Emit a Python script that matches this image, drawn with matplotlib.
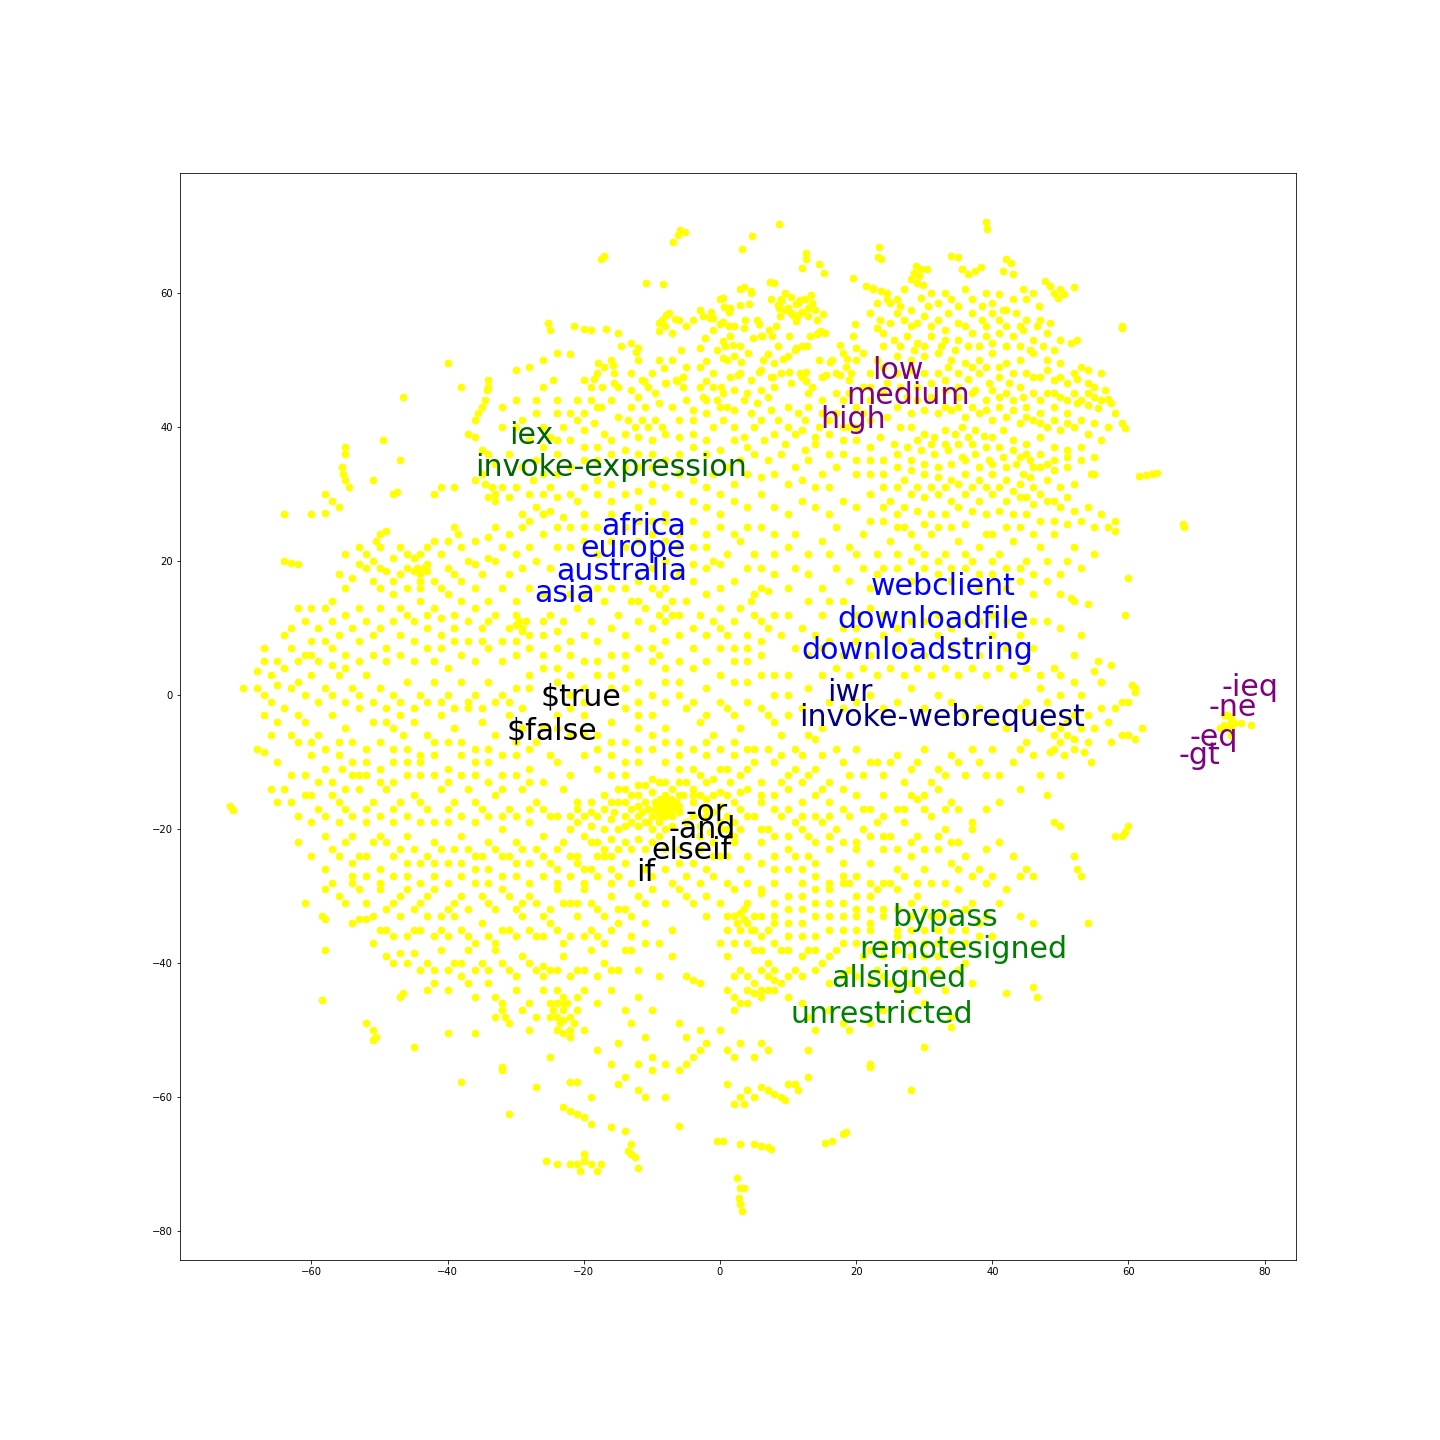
import matplotlib
matplotlib.use("Agg")
import matplotlib.pyplot as plt

# points, one list per band of y
band_top = [(-5.9,69.4),(-5.2,69),(-6.2,68.6),(-6.9,67.6),(8.7,70.3),(4.7,68.5),(3.3,66.5),(-17.4,65),(-17,65.5),(-10.8,61.4),(-8.4,61.3),
    (12.7,65.9),(12.7,65),(12.1,63.7),(14.5,64.3),(15.3,62.9),(19.5,62.2),(23.4,66.8),(23.2,65.3),(23.7,65),(34,65.5),(35,65.3),(39,70.5),(39.2,69.5),
    (28.8,64),(29.5,63.5),(28.5,63),(29.3,62.5),(30.4,63.5),(28,62),(29,61.5),(29.8,61.2),(35.5,63.5),(36.5,62.8),(37.5,63.2),(38.3,63.8),(42,65),(42.8,64.5),(41.5,63.2),(43,62.8),
    (21.5,61),(22.5,60.5),(24.5,60),(27,60.5),(31,60),(33,60),(26,59),(23,58.5),(25,58.5),(29.5,59.2),(36,60.5),(39,60),(41,59.8),(47.8,61.8),(48.5,61),(49,60),(50,60.5),(50.5,59.8),(49.7,59.2),(52,60.8),(45,59),(46.8,58),
    (-3,57.5),(-2.5,56.5),(-1.5,56.2),(0,59),(1.5,57.8),(3,60.5),(4.5,60),(8,61.5),(9,59),(10.5,59.3),(11.5,58.5),(12.5,59),(13.5,58.5),(8.5,58.2),(9.5,57.5),(10.5,57),(12,57.2),(13,56.5),(14,57.5),(0.5,55.7),(2,55),(3.5,54.7),(5.5,56),(7.2,54.5),(6,53.5),(14.3,53.8),(14.8,54.3),(15.5,54),
    (-25.3,55.5),(-25,54.5),(-21.5,55),(-20,54.6),(-19,54.5),(-22,50.8),(-15,54),(-14.5,52),(-13,52.5),(-12,51.8),(-8.5,56),(-7.5,57),(-8,55),(-9,55.5),(-7,54),(-6,56),(-5,55),(-4,56),(-1,54.5),(0.5,52.8),(3,52),(1.5,53.5),(-0.5,51.5),(-2,49.8),(1,50),(2,50.5)]

band_upper_right = [(22,57),(23.5,56),(25,55.5),(27,56),(28,55),(30,56.5),(32,56),(33.5,57),(35,55.5),(37,57),(38.5,56),(40,57),(41,56),(42,57.5),(43.5,57),(45,56),(24,54),(25.5,53),(27.5,53.5),(29,52.5),(31,53.5),(33,53),(35,53),(37,54),(39,53.5),(41,54),(43,53.5),(44.5,54.5),(46,53),(48,54),(50,53),(51.5,52.5),(52.5,53),(48.5,55.5),(59,55),(59,54.7),
    (21,51),(23,50),(26,50.5),(28,50),(30,50.5),(32,51),(34,50),(36,49.5),(38,50),(40,51),(42,49.5),(44,50),(46,51),(48,50),(50,49.5),(53,49),(54,48.5),(56,48),(45,48),(47,47.5),(49,47),(51,46.5),(52.5,47.2),(54,46.5),(55,46),(56.5,45.5),
    (35,48),(36.5,47.2),(38,48),(39.5,46.5),(41,47.5),(42.5,46.5),(44,46),(46,45),(48,45),(50,44.5),(52,45),(53,44),(54,45),(55,44.5),(56,44),(57,44.2),(57.5,43.5),(52.5,43.5),(54,43.2),(55.5,42.8),(58,42),(59,40.5),(59.5,39.8),
    (33,45.5),(35,44.5),(37,45),(39,44),(41,44.5),(43,44),(45,43),(47,42),(49,43),(51,42),(30,42.5),(32,42),(34,42.5),(36,41.5),(38,42),(40,41),(42,41.5),(44,40.5),(46,41),(48,40),(50,39.5),(52,40),(54,39),(56,38),(28,40),(30,39),(31.5,38.5),(33,39.5),(34.5,39),(35.5,40),(36.5,38.5),(37.5,39.5),(38.8,38.7),(40,38.5),(41.5,39.5),(43,38),(45,37.5),(47,38.5),(49,37),(51,36.5),(53,37),(55,35.5),
    (22,44),(24,45),(26,43),(27.5,44.5),(24.5,41.5),(26.5,40),(28,42),(22,41),(23.5,38.5),(25.5,37.5),(27.5,37),(29.5,36.5),(31.5,36),(33.5,36.5),(35.5,35.5),(37.5,36),(39.5,35),(41.5,35.5),(43.5,34.5),(45.5,35),(47,34),(49,33.5),(51,34),(54.5,33),(55,33),(61.5,32.7),(62.5,32.8),(63.5,33),(64.2,33.1),(68,25.5),(68.2,25),
    (44.5,33),(45.5,32.5),(44,31.5),(46,31),(48,32),(50,31),(52,31.5),(30,33),(32,32.5),(34,32),(36,33),(38,32),(40,33),(42,32),(26,34),(28,33.5),(24,35),(22,33),(20,35),(18,36),(26,31),(28,30),(30,29.5),(32,30),(34,29),(36,30),(38,29),(40,30),(42,29),(44,29.5),(46,28.5),(48,29),(50,28),(52,27.5),(54,28),(56,27)]

band_upper_mid = [(1.5,47.5),(3,48),(4.5,47),(6,48.5),(7.5,47.5),(9,48),(10.5,46.5),(12,47.5),(13.5,46),(15,47.5),(17,48),(18.5,49),(19,47),(14.5,50),(16.5,50),(18,51),(20,50),(10,50.5),(11,51.5),(12,52),(8,49.5),
    (-3,46),(-2.5,44.5),(-1,46),(-0.5,44),(0.5,45),(1,43),(2,45.5),(3.5,44),(4.5,42),(5.5,43.5),(7,44.5),(7.5,42.5),(8.5,41),(10,43),(11.5,42),(12.5,41),(14.5,40),(16,39),(18,38),(20,38),(22,37),(17,42),(19,40),(21,42),
    (-13,48),(-11.5,47),(-10.5,46),(-9.5,45),(-8,46.5),(-6.5,47),(-5.5,47.5),(-12,44.5),(-13,43),(-11,43),(-9,43.5),(-7,43),(-5,44),(-4,42.5),(-2,42),(-1,40),(0.5,41),(2,40),(3.5,38.5),(5,40),(6.5,38),(8,39),(9.5,37.5),(11,39),(12.5,36.5),(14,37.5),(16,36),
    (-20,47),(-19,46),(-18,48),(-17,49),(-16,50),(-15.5,48),(-19,44),(-17.5,43),(-16,44),(-15,41.5),(-13.5,41),(-12.5,40),(-11.5,41),(-10.5,40),(-9.5,41),(-8.5,40),(-12,38.5),(-10,38),(-8,39),(-6,38.5),(-4,39),(-2,38),(-21,41),(-20,39.5),(-18.5,40.5),(-17,39),(-22,38),(-20,37),(-18,37),(-16,38),(-14,36.5),(-12,36),(-10,36),
    (-24,51),(-26,50),(-28,49),(-30,48.5),(-24.5,47),(-26,46),(-34,47),(-34,46),(-34.2,45.5),(-34.5,44),(-35,43),(-35.5,42),(-36,41),(-40,49.5),(-38,46),(-30,40),(-32,40),(-29,41),(-27,42),(-26,40),(-25,38.5),(-26,37),(-28,38),(-24,36),(-22,34),(-37,39),(-36,38.5),(-35,36.5),(-34,36),(-33,34.5),
    (-46.5,44.5),(-49.5,38),(-47,35),(-51,32),(-48,30),(-47.5,30.3),(-55,37),(-55,36),(-55.5,34),(-55.3,33),(-55,32),(-54.5,31),(-58,30),(-57,29),(-56,28),(-58,27.2),(-60,27),(-64,27),(-41,31),(-42,30),(-39,31),(-36,32),(-35,33),(-34.5,31.5),(-33.5,31),(-33,30),(-34,29.5),(-33,29),(-31,29.5),(-32,31),
    (-26,33),(-27.5,32),(-25,31),(-24,29.5),(-27,28),(-26,27),(-25,27.5),(-28,26),(-29,27),(-23,26.5),(-21,29),(-20,27),(-18,30),(-16,29),(-14,30),(-12,28),(-10,29),(-8,27),(-6,30),(-4,29),(-2,28),(0,27),(2,29),(4,28),(6,30),(8,28),(10,27),(12,29),(14,28),(16,27),(18,29),(20,28),(22,30),(24,28),(26,27)]

band_mid_upper = [(-50,24),(-50.5,23),(-50,22),(-53,22),(-55,21),(-52,21),(-42,23),(-43,22),(-44,21),(-45,20.5),(-46,21),(-48,20.5),(-39,25),(-38.5,24),(-38,22),(-36,23),(-34,23.5),(-33,25),(-31,24),(-29,25),(-28,22),(-26,24),(-24,22),(-22,22),(-20,23),(-18,21),(-64,20),(-63,19.7),(-62,19.5),
    (-52,19),(-50,19),(-49,18.5),(-47,18),(-45,18.5),(-44,18),(-43,18.5),(-44,17),(-42,17),(-40,19),(-39,18),(-37,20),(-35,18),(-33,20),(-31,18),(-29,19),(-51,17),(-50,16),(-48,15),(-54,17.5),(-55,16),(-57,14),(-58,13),(-60,13),(-62,13),(-61,11),(-63,10),(-57,11),(-55,12),(-53,13),(-50,13),(-48,11),(-46,12),(-44,14),(-42,13),(-40,15),(-38,14),(-36,16),(-34,14),(-32,16),(-30,14),
    (-30,12),(-29.5,11),(-30,10.5),(-29,10),(-28.5,11),(-29,9.5),(-31,10),(-33,12),(-35,10),(-37,11),(-39,10),(-41,9),(-43,10),(-45,8),(-47,9),(-49,7),(-51,9),(-53,8),(-55,6),(-57,7),(-59,5),(-61,6),(-63,7),(-64,9),(-65,5),(-67,7),(-66,3),(-68,3.5),(-65,1.5),(-68,1),(-70,1),(-67,0),
    (-25,12),(-23,11),(-21,13),(-19,11),(-17,14),(-15,12),(-13,14),(-11,13),(-9,15),(-8,13),(-7,14),(-6,12),(-8,11),(-10,10),(-12,11),(-14,9),(-16,10),(-18,8),(-20,9),(-22,8),(-24,7),(-26,9),(-28,7),(-30,6),(-32,5),(-34,7),(-36,5),(-38,6),(-40,4),(-42,5),
    (-16,27),(-14,25),(-12,26),(-10,24),(-8,26),(-6,24),(-4,22),(-2,24),(-1,20),(0,19.5),(1,21),(3,23),(5,21),(6,16),(5,15),(4.5,14),(7,15.5),(8,18),(10,22),(11,24),(13,21),(15,23),(17,25),(19,22),(21,24),(23,21),(25,23),(27,25),(29,22),(31,24),(33,21),(35,23),(37,20),(39,24),(41,21),(43,23),(45,20),(47,22),(49,24),(50,18),(52,22),(55,21),(57,25),(58,26),(58,24.5),(60,17.5),(59.5,12),
    (13,18),(15,16),(17,19),(19,17),(21,19),(23,18),(26,19),(28,17),(30,19),(32,18),(34,17),(36,19),(38,16),(40,18),(42,16),(44,17),(46,15),(48,17),(50,15),(52,14),(54,13.5),(51.5,14.5),(13,14),(15,12),(12,10),(14,9),(11,7),(9,9),(8,12),(6,11),(4,9),(2,11),(0,13),(-2,15),(-4,17),(-6,18),(-8,20),(-10,19),(-12,17),
    (16,8),(18,6),(20,8),(22,6),(24,9),(26,7),(28,8),(30,6),(32,9),(34,7),(36,8),(38,6),(40,9),(42,7),(44,9),(46,7),(49,4),(52,6),(53,9),(50,10),(48,11),(55,3.5),(55.5,5),(56,2),(57.5,4.5),(61,1),(61,0.5),(60,-1)]

band_mid = [(-64,4),(-62,2),(-60,3),(-58,1),(-56,3),(-54,1),(-52,3),(-50,1),(-48,0),(-46,2),(-44,0),(-42,2),(-40,0),(-38,2),(-36,0),(-34,2),(-32,0),(-30,1),(-28,3),(-26,4),(-24,2),(-22,3),(-20,1),(-18,3),(-16,1),(-14,4),(-12,2),(-10,5),(-9,6),(-8,4),(-6,2),(-4,4),(-2,1),(0,3),(2,5),(4,2),(6,6),(8,3),(10,0),(13,1),(15,3),
    (-66,-1),(-64,-2),(-62,-3),(-65,-4),(-67,-3),(-66,-6),(-68,-8),(-67,-8.5),(-63,-6),(-61,-4),(-59,-6),(-57,-3),(-55,-5),(-53,-2),(-51,-4),(-49,-2),(-47,-3),(-48,-5),(-46.5,-6),(-45,-4),(-43,-6),(-41,-3),(-39,-5),(-37,-2),(-35,-4),(-33,-6),(-31,-3),(-29,-5),(-27,-7),(-26,-5),(-25,-9),(-24,-3),(-22,-6),(-20,-3),(-18,-6),(-16,-4),(-14,-7),(-12,-5),(-10,-3),(-8,-5),(-6,-7),(-5,-2),(-3,-4),(-1,-6),(1,-2),(3,-5),(5,-8),(7,-3),(9,-6),(11,-8),(13,-6),(14,-6.5),(15,-5),(16,-1),(18,-2),(20,-1),(22,0),(24,-2),(26,-1),(28,1),(30,-2),(32,0),(34,-1),(36,-3),(38,-2),(40,-4),(42,-5),(44,-2),(46,-4),
    (48,-1),(47,-5),(49,-6),(50,-5),(51,-4),(52,-3),(51,-6),(52,-6.5),(53,-5),(54,-3),(50,-7),(49,-8),(52,-8),(54,-7),(55,-5),(50.5,-9),(48.5,-8.5),(53.5,-8.5),(45,-7),(44,-8),(46,-9),(43,-10),(56,-2),(57,-4),(58,-2),(59,-1),(59,-6),(60,-6),(61,-6.5),(62,-5),(45,-1),(47,1),(50,0),(53,0),(56,2),(60.5,1.5),(57.5,-7),(54.5,-10),(50,-12),
    (74.5,-3),(75,-4),(75.5,-4.2),(74,-4.5),(75,-5),(74,-5),(73.5,-5),(75,-6),(76.5,-4.2),(78,-4.5),(75,-3.5),(74,-3),
    (-65,-10),(-63,-12),(-60,-9),(-58,-11),(-56,-9),(-54,-12),(-55.5,-11),(-57,-13),(-52,-10),(-50,-11),(-48,-13),(-46,-10),(-44,-12),(-42,-9),(-40,-11),(-38,-9),(-36,-12),(-34,-10),(-32,-12),(-30,-9),(-28,-11),(-26,-13),(-24,-10),(-22,-12),(-20,-9),(-18,-11),(-16,-9),(-14,-12),(-12,-10),(-10,-8),(-8,-10),(-6,-9),(-4,-11),(-2,-9),(0,-11),(2,-9),(4,-11),(6,-13),(8,-10),(10,-12),(12,-9),(14,-11),(16,-13),(18,-10),(20,-8),(22,-10),(24,-12),(26,-9),(28,-11),(30,-8),(32,-11),(34,-9),(36,-12),(38,-10),(40,-8),
    (-72,-16.5),(-71.5,-17.2),(-66,-14),(-65,-16),(-63,-16),(-61,-15),(-59,-17),(-57,-15),(-55,-17),(-53,-14),(-51,-16),(-49,-14),(-47,-16),(-45,-15),(-43,-17),(-41,-14),(-39,-16),(-37,-14),(-35,-17),(-33,-15),(-31,-17),(-29,-14),(-27,-16),(-25,-18),(-23,-14),(-21,-16),(-60,-19),(-58,-21),(-56,-19),(-54,-21),(-52,-19),(-50,-21),(-48,-19),(-46,-21),(-44,-19),(-42,-22),(-40,-19),(-38,-21),(-36,-19),(-34,-22),(-32,-20),(-30,-22),(-28,-19),(-26,-21),(-24,-23),
    (-6,-13),(-4,-14),(-2,-13),(0,-14.5),(1.5,-13),(-8,-13),(-10,-12.5),(-12,-13.5),(-14,-14),(-12,-15),(-10,-14.5),(-8,-15),(-6,-15),(-4,-16),(-2,-15.5),(0,-16.5),(2,-16),(-11,-16),(-9.5,-16),(-8.5,-16.5),(-8,-17),(-7.5,-16.5),(-7,-17),(-6.5,-16),(-9,-17.5),(-8,-18),(-7,-18),(-6,-17.5),(-10,-18),(-11.5,-17.5),(-13,-17),(-15,-16),(-17,-15),(-19,-16),(-18,-18),(-16,-18.5),(-14,-18),(-13,-19),(-12,-19.5),(-11,-19),(-10,-20),(-9,-19),(-8,-20),(-7,-19.5),(-5,-19),(-4,-18),(-2,-18),(-1,-17.5),(1,-18),(3,-17),(2,-19),(0,-20),(-1.5,-20.5),(-3,-21),(-15,-20),(-17,-20),(-19,-19.5),(-20,-21),(-18,-22),(-16,-21.5),(-14,-22),(-12,-21.5),(-10,-22),(-8,-23),(-20,-18),(-21,-19)]

band_lower_mid = [(4,-14),(6,-16),(8,-15),(10,-14),(12,-16),(14,-15),(16,-16),(18,-14),(20,-15),(22,-17),(24,-15),(26,-17),(28,-15),(29,-15.5),(30,-15),(32,-14),(34,-16),(35,-17),(37,-19),(39,-17),(41,-16),(44,-14),(47,-12),(48,-15),(49,-19),(50,-19.5),(58,-21),(59,-21),(59.5,-20.5),(60,-19.5),(52,-24),(52.5,-26),(53,-27),(54,-34),
    (5,-18),(7,-20),(9,-18),(11,-19),(13,-21),(15,-19),(17,-20),(19,-18),(21,-20),(23,-19),(25,-21),(27,-19),(29,-21),(31,-18),(33,-20),(35,-22),(37,-20),(39,-23),(41,-22),(43,-24),(45,-26),(46,-27),(44,-27),(42,-29),(40,-27),
    (2,-22),(4,-24),(6,-22),(8,-24),(10,-23),(11,-24),(12,-26),(13,-24),(14,-25),(16,-23),(18,-25),(20,-23),(22,-25),(24,-23),(26,-26),(28,-24),(30,-26),(32,-23),(34,-25),(36,-24),(38,-26),(0,-24),(-2,-26),(-4,-25),(-6,-23),(-3,-28),(-5,-27),(-8,-26),(-11,-26),(-14,-25),(-16,-26),(-18,-24),(-20,-26),(-22,-24),(-24,-26),(-26,-24),(-28,-25),(-30,-27),(-32,-24),(-34,-26),(-36,-24),(-38,-27),(-40,-25),(-42,-27),(-44,-25),(-46,-27),(-48,-24),(-50,-26),(-52,-24),(-54,-27),(-56,-24),(-58,-26),(-60,-24),(-62,-22),
    (-61,-31),(-58,-29),(-56,-30),(-54,-28),(-52,-31),(-50,-29),(-48,-31),(-46,-29),(-44,-31),(-42,-29),(-40,-32),(-38,-30),(-36,-28),(-34,-31),(-32,-29),(-30,-32),(-28,-30),(-26,-33),(-24,-29),(-22,-31),(-20,-29),(-18,-32),(-16,-30),(-14,-32),(-12,-30),(-10,-29),(-8,-31),(-6,-29),(-4,-31),(-2,-33),(0,-31),(2,-29),(4,-31),(6,-29),(8,-31),(10,-30),(12,-32),(14,-29),(16,-31),(18,-28),(20,-30),(22,-32),(24,-28),(26,-29),(28,-31),(29,-30),(31,-33),(33,-31),(35,-29),(37,-31),(39,-33),(41,-31),(44,-33),(46,-34),
    (-58.5,-33),(-58,-33.5),(-54,-34),(-53,-33.5),(-52,-33.5),(-49,-35),(-47,-33),(-45,-35),(-43,-33),(-41,-35),(-39,-33),(-37,-36),(-35,-34),(-33,-37),(-31,-35),(-29,-33),(-27,-36),(-25,-34),(-23,-37),(-21,-33),(-19,-35),(-17,-37),(-15,-34),(-13,-36),(-11,-34),(-9,-37),(-7,-35),(1,-35),(2,-33),(3,-32.5),(3.5,-33.5),(4,-34),(5,-33),(4.5,-35),(3,-35),(6,-36),(8,-34),(10,-36),(12,-34),(14,-36),(16,-33),(18,-35),(20,-33),(22,-35),(24,-37),(26,-35),(28,-37),(30,-35),(32,-37),(34,-35),(36,-37),(38,-34),(40,-36),
    (-58,-38),(-51,-37),(-49,-39),(-47,-38.5),(-45,-38.5),(-43,-40),(-41,-38),(-39,-40),(-37,-38),(-35,-40),(-33,-38),(-31,-41),(-29,-39),(-27,-41),(-26,-40.5),(-25,-41),(-23,-39),(-21,-41),(-19,-38),(-17,-40),(-15,-41),(-13,-38),(-12,-41),(-11,-37),(-9,-42),(-7,-39),(-5,-42),(-4,-42.5),(-3,-43),(1,-39),(3,-41),(5,-38),(7,-40),(9,-38),(11,-41),(13,-38),(15,-40),(17,-38),(19,-41),(21,-39),(23,-41),(25,-43),(27,-41),(29,-44),(31,-42),(33,-44),(35,-41),(37,-43),(42,-44.5),(46,-43.5),(46.5,-45)]

band_bottom = [(-58.5,-45.5),(-47,-45),(-46.5,-44.5),(-42,-43),(-40,-44),(-38,-42),(-36,-45),(-34,-43),(-32,-46),(-30,-44),(-28,-46),(-26,-44),(-24,-46),(-23,-45),(-23,-47),(-24,-48),(-22.5,-46),(-22,-48),(-23.5,-49),(-22,-50),(-23,-50.5),(-21,-47),(-24,-44),(-21,-45),(-20,-44),(-18,-46),(-16,-44),(-14,-47),(-12,-45),(-10,-47),
    (-33,-48),(-32,-47),(-31.5,-48),(-31,-49),(-28,-50),(-36,-50.5),(-52,-49),(-51,-50),(-50.5,-51),(-51,-51.5),(-45,-52.5),(-40,-50.5),(-25,-54),(-20,-50),(-18,-53),(-15,-52),(-13,-49),(-11,-51),(-10,-54),(-12,-55),(-10,-56),(-8,-55),(-6,-56),(-5,-55),(-4,-54),(-3,-53),(-2,-52),(-6,-49),(-5,-51),(-3,-50),(0,-50),(1,-53),(2,-54),(3,-52),(5,-54),(6,-52),(7,-53),
    (2,-45),(3,-46),(4,-44),(5,-43),(6,-44),(7,-42),(8,-44),(9,-43),(10,-45),(12,-46),(13,-48),(14,-50),(16,-47),(18,-49),(19,-50),(22,-49),(24,-47),(28,-47),(30,-46),(30,-52.5),(34,-49.5),(34,-48),
    (-32,-55.5),(-32,-56),(-38,-57.8),(-31,-62.5),(-27,-58.5),(-22,-57.8),(-21,-57.7),(-19,-60),(-16,-55),(-15,-58),(-14,-57),(-12,-59),(-11,-60),(-8,-60),(-6,-64.3),(-14,-65),(-13,-67),(-13.5,-68),(-12.5,-69),(-12,-70.5),(-13,-68.5),(-16,-64.5),(-23,-61.5),(-22,-62),(-21,-62.5),(-20,-63),(-19,-64),
    (-25.5,-69.5),(-24,-70),(-22,-70),(-21,-70),(-20,-69.5),(-20.5,-71),(-19,-70),(-18,-71),(-17.5,-70),(-20,-68.5),
    (-0.5,-66.5),(0.5,-66.5),(1,-58),(2,-61),(3,-60),(3.5,-61),(4,-59),(5,-60),(6,-58.5),(7,-59),(8,-59.5),(9,-60),(9.5,-60.5),(10,-58),(11,-58),(11.5,-59),(13,-57),(13,-53),(22,-55),(22,-55.5),(28,-59),(3,-67),(5,-67),(6,-67.3),(7,-67.5),(7.5,-67.8),(15.5,-66.8),(16.5,-66.5),(18,-65.5),(18.5,-65.2),
    (2.5,-72),(3,-73.5),(3.5,-73.5),(2.8,-75),(3,-76),(3.2,-77)]

# second pass over the picture, the points the bands above missed
extra_top = [(0.4,59.2),(-1.3,57.2),(0.6,57.9),(1.4,57.2),(-1,56.2),(0,55.4),(1.3,55.1),(2.9,58.2),(4.3,58.3),(3.7,56),(3.5,60.9),(4.5,60.3),(7.3,61.6),(7.5,59),(8.9,58.7),(9.5,59.9),(11.7,58.9),(13.4,59.7),(8.7,57.8),(10,57.8),(11.1,58.3),(12.9,57.7),(8.8,56.5),(10.7,56.7),(11.5,56.7),(11.2,55.8),(14.2,56),(15.1,56.8),(5.8,55.3),(8.3,55),(6.2,53.6),(4.8,53.2),(7.6,53.6),(10.1,53.5),(12.8,52.1),(13.2,53.5),(14.6,54.1),(8.5,52.1),(11.2,51.7),(7.1,50.8),(9.3,50.1),(6.3,50),(4.1,51),(3.1,49.7),(1.9,52.2),(0.7,52.1),(0.4,50.2),(-3,51.8),(-2.2,53.2),(-5.7,51.4),(-8.9,54.3),(-7.9,56.7),(-6.6,56.1),(-16.7,54.6),(-12.3,51.1),(-12,49.9),(-17.9,49.5),(-15.7,49.3),(-8.2,48.8),(-18.5,47.1),(-15.5,46.6),(-17.3,45.9),(-11.2,46.8),(-7.9,46.5),(-6.3,46.8),(-5.4,47.4),(-5.4,45.9),(-2.1,46.8),(0.2,45.9),(2.6,47.7),(5.8,48.2),(7.8,47.5),(10.2,48.2),(11.7,48),(12.7,48.2),(12.7,46.8),(15.6,47.7),(17.6,47.7),(19.3,48),(16.1,49.7),(18.6,50.1),(17.6,52.2),(20,51.7),(19.5,53.6),(19.8,55.4),(23,54.8),(22.5,60.7),(23.7,60.3),
    (24.5,59),(26.5,58),(28,57.5),(30.5,58),(32,58.5),(34,59),(35,58),(37,59),(38.5,58),(40,58.5),(41.5,57.5),(43,59),(44.5,60.5),(46,60),(47,56),(26,57),(29,55.5),(31,55),(33,54.5),(36,55),(39,55),(42,55),(44,55),(46.5,55),(24,52),(26.5,52),(28.5,51.5),(30,52),(32.5,52),(34.5,51.5),(36.5,52),(38,52),(40,52.5),(42,52),(44,52),(45.5,51.5),(47.5,52),(49,51.5),
    (22,48),(24,49),(26,48),(28,48.5),(30,48),(32,48),(33.5,49),(37,49),(39,49),(41,49),(43,48),(46,47.5),(48,48.5),(50,47.5),(52,48),(24.5,46.5),(26.5,46),(29,46),(31,46.5),(33,47),(35,46),(37.5,45.5),(40,45.5),(42,45),(44.5,44.5),(47,44),(49,45),(51,44),(29,44),(31,44.5),(33,43),(35,43),(37,43),(39,42.5),(41,43),(43,42.5),(45,41.5),(47,40.5),(49,41),(51,40.5),(53,41),(55,40.5),(57,40)]

extra_upper = [(29,38),(31,37.5),(33,37.5),(35,37.5),(37,37.5),(39,37),(41,37),(43,36.5),(45,36),(47,36),(49,35),(51,35.5),(53,35),(20,33),(22,35),(24,33),(26,36),(28,35),(30,34.5),(32,34),(34,34.5),(36,35),(38,34),(40,34.5),(42,34),(44,35.5),(46,34),(48,34.5),(24,31),(25,29),(27,32),(29,31),(31,31),(33,31),(35,31.5),(37,31),(39,31),(41,31),(43,30.5),(45,29.5),(47,30),(49,29),(51,29.5),(27,28),(29,27.5),(31,27),(33,27),(35,28),(37,27.5),(39,27),(41,27.5),(43,27),(45,27),(47,26),(49,26),(51,25.5),(53,26),(55,25),(22,26),(24,26),(26,25),(28,24),(30,25.5),(32,25),(34,25),(36,25.5),(38,22),(40,24),(42,25),(44,25),(46,24),(48,20),(51,20),(53,19),
    (13,45),(15,44),(17,45),(19,45),(21,46),(13,43),(15,42),(18,44),(20,43),(22,46),(12,39.5),(14,38.5),(16,41),(18,40),(20,40),(10,40),(6,41),(4,37),(2,38),(0,36.5),(-2,36),(-4,37),(-6,36),(-8,35),(-10,34),(-12,34),(-14,34),(-16,36),(-18,35),(-20,35),(-14,39),(-6,41),(-4,41),(-2,44),(0,43),(2,42.5),(4,45),(6,45.5),(8,46),(-13,45.5),(-15,46),(-10,48),(-9,50),(-7,50),(-5,49),(-3,49),(-1,48),
    (17,34),(15,33),(13,35),(11,34),(9,36),(7,35),(5,36),(3,35),(1,34),(-1,33),(16,31),(14,31),(12,32),(10,31.5),(8,33),(6,32.5),(4,33),(2,31.5),(0,30),(-2,31),(-4,32),(-6,33),(-8,31),(-10,31.5),(-12,30.5),(-16,31.5),(-18,32),(-20,31),(-22,30),(-24,33),(-26,30),(-28,30),(-30,31),(-29,34),(-31,36),(-27,35),(-24,38),(-23,40),(-22,42),(-24,42),(-20,42),(-18,43),(-21,44),(-24,44),(-27,44),(-30,44),(-32,43),
    (-10,26),(-8,23),(-6,22),(-4,26),(-2,22),(0,25),(2,24),(4,25),(6,25),(8,24),(8,21),(6,19),(4,19),(2,17),(0,16),(-2,19),(-4,19.5),(-14,22),(-12,23),(-16,23),(-18,25),(-20,25),(-22,25),(-24,25),(-26,27),(-10,16),(-12,14),(-14,16),(-16,16),(-18,16),(-20,15),(-22,15),(-8,16),(-7,12),(-9,12),(-5,14),(-3,12),(-1,11),(1,9),(3,13),(5,12),(7,10),(10,12),(10,16),(11,19),(16,21),(20,21),(22,16),(24,19),(26,21),(28,20),(30,21),(32,20),(34,19),(36,21),(38,18),(40,20),(42,19),(44,19),(46,18),(16,14),(18,14),(20,12),(22,13),(24,12),(26,10),(28,11),(30,11),(32,12),(34,10),(36,11),(38,11),(40,12),(42,11),(44,12),(46,11),(18,10),(20,10),(15,7),(13,6),(17,4),(19,3),(21,4),(23,3),(25,4),(27,3),(29,4),(31,3),(33,4),(35,3),(37,4),(39,3),(41,4),(43,3),(45,4),(47,3),(50,3),(52,2)]

extra_left = [(-47,22),(-49,24.5),(-40,23),(-41,21),(-43,19.5),(-46,19),(-44.5,19),(-43.5,19),(-56,18),(-53,19.5),(-51,20),(-48,17),(-46,16),(-44,16),(-41,16),(-38,17),(-36,19.5),(-34,20.5),(-32,22),(-30,21),(-27,20),(-25,19),(-28,16),(-26,15),(-59,10),(-56,9),(-54,10),(-52,11),(-50,10),(-47,13),(-45,11),(-43,12),(-41,11.5),(-39,12),(-36,13),(-34,11),(-32,8),(-30,8),(-28,9),(-26,11),(-24,9.5),(-60,8),(-58,8),(-62,5),(-60,6),(-57,4.5),(-55,4),(-53,5),(-51,6),(-49,5),(-47,6),(-45,5),(-43,7),(-41,7),(-39,8),(-37,8),(-35,8),
    (-67,5),(-63,1),(-61,0),(-59,-1),(-57,0),(-55,-1),(-53,0),(-51,-1),(-49,-4),(-47,-1),(-45,-2),(-43,-1),(-41,-1),(-39,-2),(-37,-1),(-35,-2),(-33,-1),(-31,-1),(-29,-2),(-62,-7),(-60,-7),(-58,-8),(-56,-7),(-54,-7),(-52,-8),(-50,-7),(-48,-8),(-46,-8),(-44,-9),(-42,-7),(-40,-7),(-38,-7),(-36,-8),(-34,-8),(-32,-9),(-30,-7),(-28,-8),(-54,-10),(-52,-12),(-50,-13),(-48,-10),(-46,-12),(-44,-10),(-42,-12),(-40,-13),(-38,-12),(-36,-10),(-34,-13),(-32,-14),(-30,-12),(-28,-13),(-61,-12),(-59,-13),(-55,-14),(-53,-12),(-64,-14),(-62,-18),(-60,-15),(-58,-18),(-56,-16),(-54,-18),(-52,-17),(-50,-18),(-48,-17),(-46,-18),(-44,-16),(-42,-19),(-40,-17),(-38,-18),(-36,-16),(-34,-18),(-32,-18),(-30,-18),(-28,-17),(-26,-17),(-24,-18),(-22,-18),
    (-57,-23),(-55,-22),(-53,-24),(-51,-22),(-49,-22),(-47,-23),(-45,-23),(-43,-24),(-41,-23),(-39,-23),(-37,-23),(-35,-24),(-33,-23),(-31,-24),(-29,-23),(-27,-23),(-25,-25),(-23,-22),(-21,-24),(-54,-25),(-52,-27),(-50,-28),(-48,-27),(-46,-25),(-44,-28),(-42,-25),(-40,-28),(-38,-25),(-36,-26),(-34,-28),(-32,-27),(-30,-25),(-28,-28),(-26,-27),(-24,-28),(-22,-27),(-20,-28),(-18,-27),(-16,-28),(-57,-28),(-55,-31),(-53,-29),(-51,-33),(-49,-32),(-47,-30),(-45,-32),(-43,-30),(-41,-33),(-39,-31),(-37,-32),(-35,-30),(-33,-32),(-31,-30),(-29,-31),(-27,-31),(-25,-32),(-23,-31),(-21,-31),(-19,-31),(-17,-33),(-15,-32),(-13,-33),(-11,-31),(-50,-35),(-48,-36),(-46,-36),(-44,-35),(-42,-36),(-40,-36),(-38,-35),(-36,-37),(-34,-36),(-32,-35),(-30,-36),(-28,-35),(-26,-36),(-24,-35),(-22,-36),(-20,-36),(-18,-36),(-16,-35),(-14,-38),(-48,-40),(-46,-40),(-44,-41),(-42,-41),(-40,-41),(-38,-40),(-36,-41),(-34,-41),(-32,-40),(-30,-42),(-28,-40),(-26,-42),(-24,-41),(-22,-42),(-20,-41),(-18,-42),(-16,-41),(-43,-44),(-37,-43),(-33,-45),(-29,-47),(-27,-48),(-25,-46),(-24.5,-47),(-25,-48),(-23,-46),(-23,-48.5),(-24,-50),(-21.5,-49),(-22,-51)]

extra_centre = [(-16,-12),(-14,-10),(-12,-8),(-10,-6),(-8,-7),(-6,-11),(-4,-8),(-2,-7),(0,-8),(2,-7),(4,-8),(-15,-14),(-13,-15),(-11,-13.5),(-9,-13),(-7,-14),(-5,-13),(-3,-12),(-1,-12.5),(1,-11),(3,-12),(-16,-16),(-14,-16),(-12,-16.5),(-10.5,-17),(-9.5,-17),(-8.5,-17.5),(-8.2,-16),(-7.2,-15.5),(-6,-16.5),(-5.5,-15),(-4,-15),(-3,-15),(-1,-15),(1,-15),(3,-14.5),(-8.8,-15.5),(-9,-16.5),(-7.8,-17.5),(-6.8,-16.5),(-8,-16),(-9,-18.5),(-10.5,-19),(-12,-18),(-14,-19.5),(-15.5,-17.5),(-17,-17),(-19,-17.5),(-21,-17),(-22,-20),(-19,-22),(-17,-23),(-15,-23),(-13,-23),(-11,-23),(-9,-21),(-3,-19.5),(-2,-17),(0,-19),(1,-20),(3,-20),(4,-18),(2,-21),(-1,-22),(-3,-23),(-1,-24),(1,-24),(3,-26),(-6,-25),(-7,-28),(-10,-27),(-13,-28),(-15,-27),(-17,-24),(-19,-26),(-21,-25),(-16,-24),(-1,-27),(1,-28),(-5,-30),(-2,-30),
    (-24,-5),(-22,-2),(-20,-6),(-18,-8),(-16,-7),(-14,-2),(-12,-3),(-10,0),(-8,-1),(-6,0),(-4,-1),(-2,-3),(0,-1),(2,-3),(4,-1),(6,-2),(8,-4),(10,-3),(12,-2),(-8,2),(-6,5),(-4,7),(-2,5),(0,7),(2,2),(4,5),(6,3),(8,0),(10,3),(-16,6),(-14,6),(-12,7),(-10,7),(-8,8),(-6,9),(-4,10),(-2,9),(0,10),(2,7),(4,7),(6,8),(-20,5),(-18,5),(-22,6),(-24,4),(-26,6),(-28,1),(-22,0),(-20,-1),(-16,3),(-14,1),(-12,-1),
    (5,-10),(7,-8),(9,-9),(11,-11),(13,-12),(15,-9),(17,-8),(19,-12),(21,-12),(23,-10),(25,-10),(27,-13),(29,-10),(31,-13),(33,-12),(35,-10),(37,-8),(39,-12),(41,-12),(6,-15),(9,-13),(12,-13),(15,-14),(18,-17),(21,-17),(24,-18),(27,-17),(30,-17),(33,-17),(8,-17),(10,-17),(12,-18),(14,-18),(16,-18),(6,-20),(8,-21),(10,-21),(12,-20),(14,-22),(16,-21),(18,-22),(20,-22),(22,-21),(24,-21),(26,-23),(28,-22),(30,-23),(32,-21),(34,-22),(6,-25),(8,-26),(10,-26),(12,-28),(14,-27),(16,-28),(18,-27),(19,-28),(20,-27),(22,-28),(23,-29),(25,-28),(27,-27),(29,-28),(31,-28),(33,-28),(35,-26),(37,-27),(39,-28),
    (4,-28),(6,-29.5),(8,-28),(10,-32),(12,-30),(14,-31),(16,-29),(18,-31),(20,-32),(22,-30),(24,-32),(26,-32),(28,-33),(30,-32),(32,-33),(34,-33),(36,-32),(1,-33),(2.5,-34),(3.5,-32),(5,-35),(6,-33),(7,-35),(8,-33),(10,-34),(12,-36),(14,-33),(16,-35),(18,-33),(20,-35),(22,-34),(24,-33),(26,-36),(28,-35),(30,-37),(32,-35),(34,-37),(36,-35),(38,-36),(0,-37),(2,-37),(4,-37),(6,-38),(8,-37),(10,-38),(12,-39),(14,-38),(16,-39),(18,-37),(20,-37),(22,-38),(24,-39),(26,-38),(28,-39),(30,-39),(32,-39),(34,-38),(36,-40),(2,-42),(4,-42),(6,-41),(8,-41),(10,-42),(12,-42),(14,-41),(16,-43),(18,-42),(20,-42),(22,-43),(24,-42),(26,-44),(28,-43),(30,-41),(32,-41),(5,-44.5),(6,-45),(7,-44),(8,-42.5),(4,-46),(2,-47),(1,-44)]

all_points = (band_top + band_upper_right + band_upper_mid + band_mid_upper + band_mid + band_lower_mid + band_bottom
              + extra_top + extra_upper + extra_left + extra_centre)
xs = [p[0] for p in all_points]
ys = [p[1] for p in all_points]

# word, x, y, colour
words = ["low", "medium", "high", "iex", "invoke-expression",
         "africa", "europe", "australia", "asia",
         "webclient", "downloadfile", "downloadstring", "iwr", "invoke-webrequest",
         "$true", "$false", "-or", "-and", "elseif", "if",
         "bypass", "remotesigned", "allsigned", "unrestricted",
         "-ieq", "-ne", "-eq", "-gt"]
word_x = [22.3, 18.5, 14.8, -31, -36, -17.5, -20.5, -24, -27.3, 22.2, 17.2, 12, 15.7, 11.7,
          -26.4, -31.3, -5, -7.5, -10, -12.3, 25.3, 20.4, 16.3, 10.3, 73.7, 71.7, 69, 67.3]
word_y = [47.1, 43.4, 39.8, 37.4, 32.6, 23.8, 20.6, 17.1, 13.9, 14.9, 10, 5.4, -0.9, -4.6,
          -1.6, -6.7, -18.8, -21.3, -24.4, -27.7, -34.4, -39.2, -43.5, -49, -0.1, -3.1, -7.6, -10.3]
word_c = ["purple"] * 3 + ["darkgreen"] * 2 + ["blue"] * 7 + ["navy"] * 2 + ["black"] * 6 + ["green"] * 4 + ["purple"] * 4

plt.figure(figsize=(20, 20), dpi=72)
plt.subplots_adjust(bottom=0.125)
plt.scatter(xs, ys, c="yellow", s=45)
for w, x, y, c in zip(words, word_x, word_y, word_c):
    plt.text(x, y, w, fontsize=30, color=c)
plt.xlim(-79.3, 84.6)
plt.ylim(-84.3, 77.9)
plt.savefig("out.png")
